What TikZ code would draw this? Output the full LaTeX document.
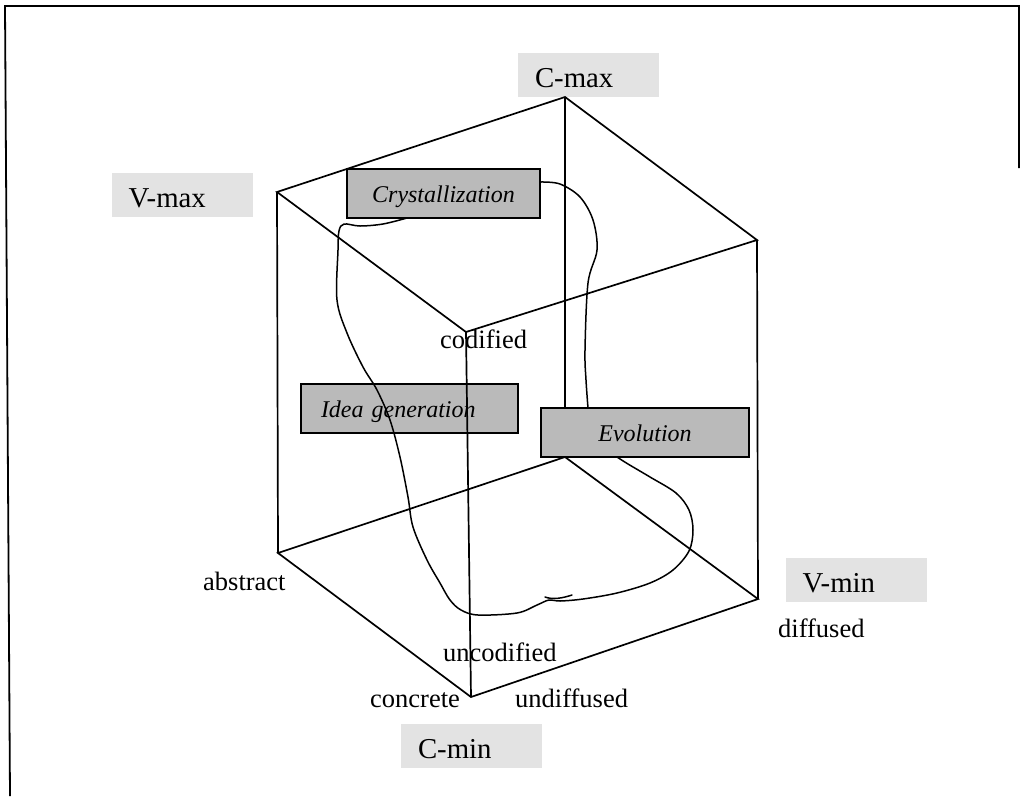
\documentclass[tikz,border=0pt]{standalone}
\usepackage{fontspec}
\setmainfont{Liberation Serif}
\begin{document}
\begin{tikzpicture}[x=1pt,y=-1pt,
  edge/.style={line width=1.7pt},
  loopline/.style={line width=1.5pt, line cap=round, line join=round},
  frameline/.style={line width=1.8pt},
  tag/.style={fill=black!11, minimum width=141pt, minimum height=44pt,
    text width=107pt, inner xsep=17pt, inner ysep=0pt, align=left,
    text height=25pt, text depth=0pt,
    font=\fontsize{28.8}{30}\selectfont},
  proc/.style={draw, line width=1.5pt, fill=black!27, minimum height=49pt,
    inner ysep=0pt, text height=17pt, text depth=0pt,
    font=\fontsize{24}{26}\selectfont\itshape},
  word/.style={anchor=base west, inner sep=0pt,
    font=\fontsize{26.5}{28}\selectfont}
]
\useasboundingbox (0,0) rectangle (1020,796);

% outer frame (open at the bottom)
\draw[frameline] (1019,168) -- (1019,6) -- (5,6) -- (10,796);

% pole labels on light grey patches
\node[tag] (cmax) at (588.5,75) {C-max};
\node[tag] (vmax) at (182,195) {V-max};
\node[tag] (vmin) at (856,579.5) {V-min};
\node[tag] (cmin) at (471.5,746) {C-min};

% phase box that the lines run across
\node[proc, text width=177pt, inner xsep=20pt, align=left] (idea) at (409.5,408.5) {Idea generation};

% cube corners
\coordinate (tl) at (277,192);
\coordinate (tb) at (565,97);
\coordinate (tr) at (757,240);
\coordinate (tf) at (466,332);
\coordinate (bl) at (278,553);
\coordinate (bb) at (565,457);
\coordinate (br) at (758,599);
\coordinate (bf) at (471,697);

% cube edges
\draw[edge] (tl) -- (tb) -- (tr) -- (tf) -- cycle;
\draw[edge] (bl) -- (bb) -- (br) -- (bf) -- cycle;
\draw[edge] (tl) -- (bl);
\draw[edge] (tb) -- (bb);
\draw[edge] (tr) -- (br);
\draw[edge] (tf) -- (bf);

% the learning cycle, traced freehand
\draw[loopline] plot[smooth, tension=0.55] coordinates {
  (407,218) (383,224) (360,226) (344,224) (339,231) (338,250) (337,300)
  (347,333) (363,367) (377,390) (390,420) (400,457) (408,497) (413,527)
  (427,560) (440,583) (450,600) (461,610) (478,615) (517,613) (537,605)
  (549,600) (560,601) (583,599) (617,593) (650,583) (673,570) (689,551)
  (693,530) (689,510) (676,493) (650,477) (628,464) (617,457)};
\draw[loopline] plot[smooth, tension=0.55] coordinates {
  (588,408) (586,380) (585,350) (588,283) (597,250) (593,220) (580,197)
  (560,184) (541,182)};
\draw[loopline] (545,597) .. controls (553,600) and (563,598) .. (572,595);

% phase boxes sitting on top of the cube
\node[proc, minimum width=193pt] (cry) at (443.5,193.5) {Crystallization};
\node[proc, minimum width=208pt] (evo) at (645,432.5) {Evolution};

% axis end words
\node[word] (wcod) at (440,348) {codified};
\node[word] (wabs) at (203,590) {abstract};
\node[word] (wunc) at (443,661) {uncodified};
\node[word] (wcon) at (370,707) {concrete};
\node[word] (wund) at (515,707) {undiffused};
\node[word] (wdif) at (778,637) {diffused};
\end{tikzpicture}
\end{document}
